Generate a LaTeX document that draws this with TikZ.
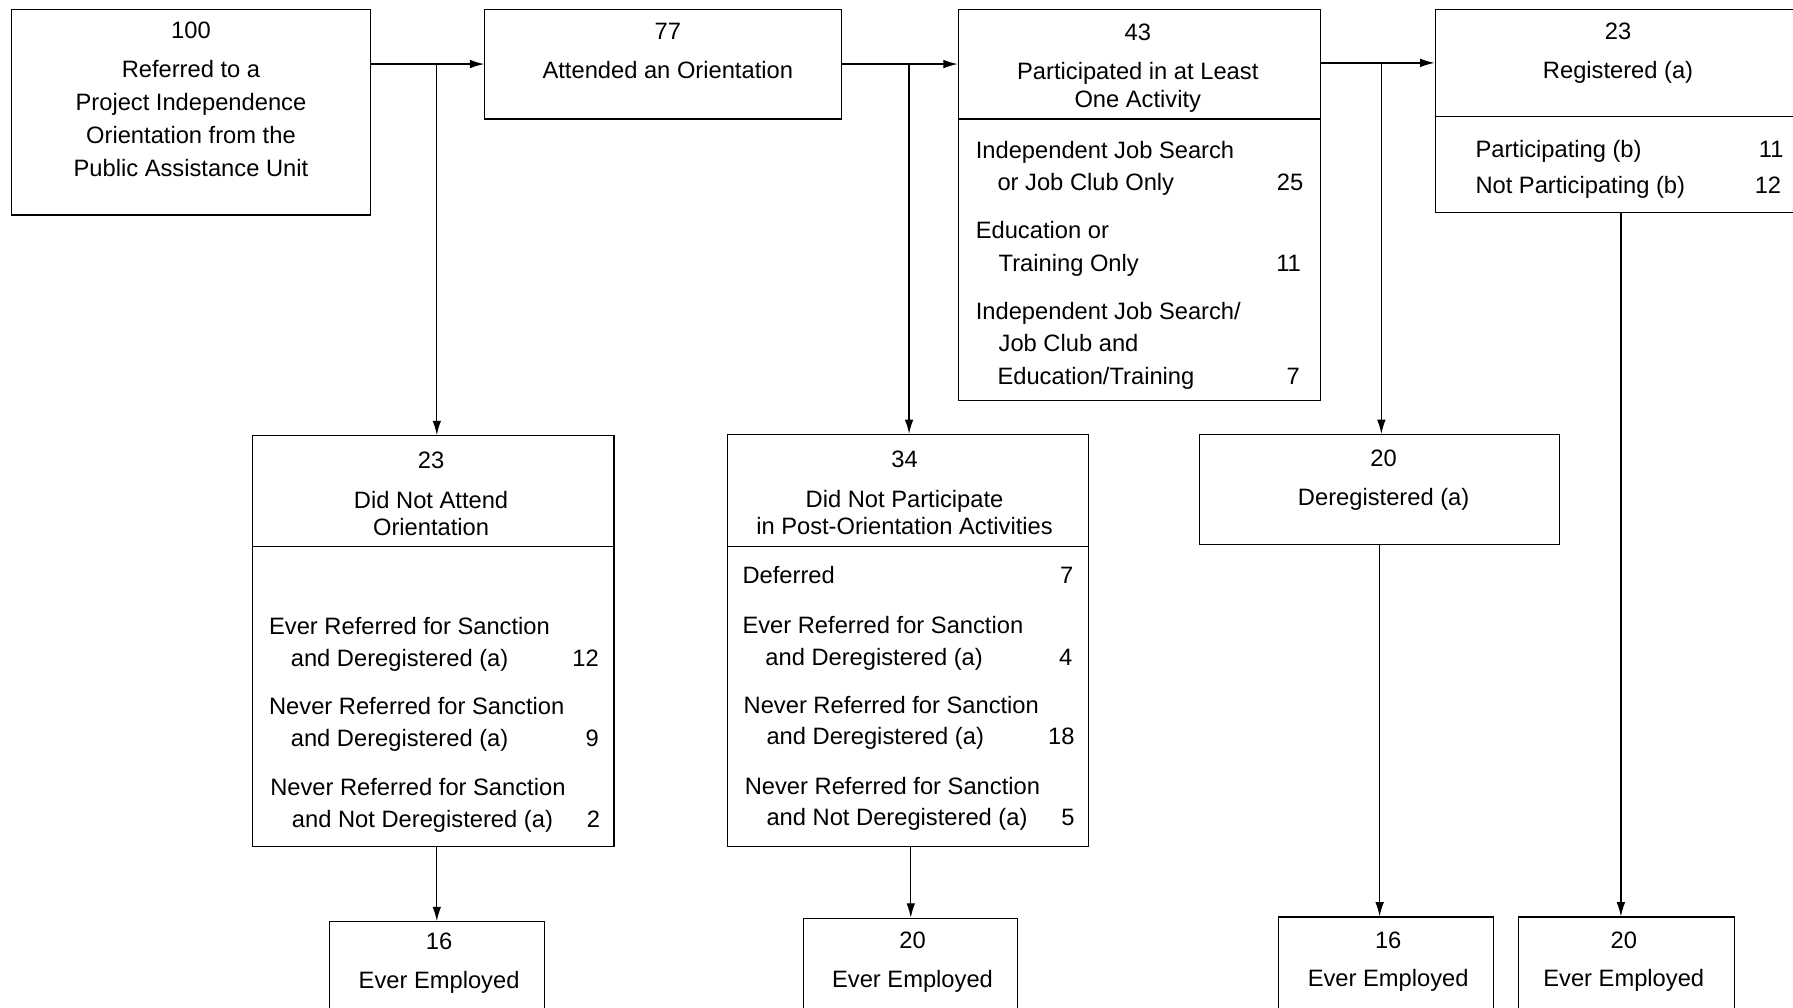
\documentclass[tikz,border=0pt]{standalone}
\usepackage{fontspec}
\setmainfont{Liberation Sans}
\usepackage{tikz}
\usetikzlibrary{calc, arrows.meta, fit}

\begin{document}
\begin{tikzpicture}[x=0.2mm, y=-0.2mm, font=\fontsize{11.8}{14}\selectfont]
		\tikzstyle{box}   = [draw=black, line width=0.6pt, inner sep=0pt]
		\tikzstyle{txt}   = [anchor=mid, inner sep=0pt, yshift=-0.6mm]
		\tikzstyle{lft}   = [anchor=mid west, inner sep=0pt, yshift=-0.6mm]
		\tikzstyle{rgt}   = [anchor=mid east, inner sep=0pt, yshift=-0.6mm]
		\tikzstyle{arrow} = [line width=0.6pt, -{Latex[length=2.5mm, width=1.5mm]}]

		\useasboundingbox (0,0) rectangle (1568,881);
		\clip (0,0) rectangle (1568,881);

		% top row
		\node[box, fit={(10,8) (324,188)}]     (ref) {};
		\node[txt] at (167,26)   (ref-n)  {100};
		\node[txt] at (167,60)   (ref-t1) {Referred to a};
		\node[txt] at (167,89)   (ref-t2) {Project Independence};
		\node[txt] at (167,118)  (ref-t3) {Orientation from the};
		\node[txt] at (167,147)  (ref-t4) {Public Assistance Unit};

		\node[box, fit={(424,8) (736,104)}]    (att) {};
		\node[txt] at (584,27)   (att-n)  {77};
		\node[txt] at (584,61)   (att-t1) {Attended an Orientation};

		\node[box, fit={(838,8) (1155,350)}]   (par) {};
		\draw[line width=0.6pt] (838,104) -- (1155,104);
		\node[txt] at (995,28)   (par-n)  {43};
		\node[txt] at (995,62)   (par-t1) {Participated in at Least};
		\node[txt] at (995,86)   (par-t2) {One Activity};
		\node[lft] at (853,131)  (par-l1) {Independent Job Search};
		\node[lft] at (872,159)  (par-l2) {or Job Club Only};
		\node[rgt] at (1140,159) (par-v1) {25};
		\node[lft] at (853,201)  (par-l3) {Education or};
		\node[lft] at (873,230)  (par-l4) {Training Only};
		\node[rgt] at (1138,230) (par-v2) {11};
		\node[lft] at (853,272)  (par-l5) {Independent Job Search/};
		\node[lft] at (873,300)  (par-l6) {Job Club and};
		\node[lft] at (872,329)  (par-l7) {Education/Training};
		\node[rgt] at (1137,329) (par-v3) {7};

		\node[box, fit={(1255,8) (1580,186)}]  (reg) {};
		\draw[line width=0.6pt] (1255,102) -- (1580,102);
		\node[txt] at (1415,27)  (reg-n)  {23};
		\node[txt] at (1415,61)  (reg-t1) {Registered (a)};
		\node[lft] at (1290,130) (reg-l1) {Participating (b)};
		\node[rgt] at (1560,130) (reg-v1) {11};
		\node[lft] at (1290,162) (reg-l2) {Not Participating (b)};
		\node[rgt] at (1558,162) (reg-v2) {12};

		% middle row
		\node[box, fit={(221,381) (537,740)}]  (nat) {};
		\draw[line width=0.6pt] (221,478) -- (537,478);
		\node[txt] at (377,402)  (nat-n)  {23};
		\node[txt] at (377,437)  (nat-t1) {Did Not Attend};
		\node[txt] at (377,461)  (nat-t2) {Orientation};
		\node[lft] at (235,547)  (nat-l1) {Ever Referred for Sanction};
		\node[lft] at (254,575)  (nat-l2) {and Deregistered (a)};
		\node[rgt] at (524,575)  (nat-v1) {12};
		\node[lft] at (235,617)  (nat-l3) {Never Referred for Sanction};
		\node[lft] at (254,645)  (nat-l4) {and Deregistered (a)};
		\node[rgt] at (524,645)  (nat-v2) {9};
		\node[lft] at (236,688)  (nat-l5) {Never Referred for Sanction};
		\node[lft] at (255,716)  (nat-l6) {and Not Deregistered (a)};
		\node[rgt] at (525,716)  (nat-v3) {2};

		\node[box, fit={(636,380) (952,740)}]  (npa) {};
		\draw[line width=0.6pt] (636,478) -- (952,478);
		\node[txt] at (791,401)  (npa-n)  {34};
		\node[txt] at (791,436)  (npa-t1) {Did Not Participate};
		\node[txt] at (791,460)  (npa-t2) {in Post-Orientation Activities};
		\node[lft] at (649,503)  (npa-l1) {Deferred};
		\node[rgt] at (939,503)  (npa-v1) {7};
		\node[lft] at (649,546)  (npa-l2) {Ever Referred for Sanction};
		\node[lft] at (669,574)  (npa-l3) {and Deregistered (a)};
		\node[rgt] at (938,574)  (npa-v2) {4};
		\node[lft] at (650,616)  (npa-l4) {Never Referred for Sanction};
		\node[lft] at (670,643)  (npa-l5) {and Deregistered (a)};
		\node[rgt] at (940,643)  (npa-v3) {18};
		\node[lft] at (651,687)  (npa-l6) {Never Referred for Sanction};
		\node[lft] at (670,714)  (npa-l7) {and Not Deregistered (a)};
		\node[rgt] at (940,714)  (npa-v4) {5};

		\node[box, fit={(1049,380) (1364,476)}] (der) {};
		\node[txt] at (1210,400) (der-n)  {20};
		\node[txt] at (1210,434) (der-t1) {Deregistered (a)};

		% bottom row
		\node[box, fit={(288,806) (476,900)}]   (e1) {};
		\node[txt] at (384,823)  (e1-n)   {16};
		\node[txt] at (384,857)  (e1-t)   {Ever Employed};
		\node[box, fit={(703,803) (890,900)}]   (e2) {};
		\node[txt] at (798,822)  (e2-n)   {20};
		\node[txt] at (798,856)  (e2-t)   {Ever Employed};
		\node[box, fit={(1118,802) (1306,900)}] (e3) {};
		\node[txt] at (1214,822) (e3-n)   {16};
		\node[txt] at (1214,855) (e3-t)   {Ever Employed};
		\node[box, fit={(1328,802) (1517,900)}] (e4) {};
		\node[txt] at (1420,822) (e4-n)   {20};
		\node[txt] at (1420,855) (e4-t)   {Ever Employed};

		% connectors
		\coordinate (b1) at (382,56);
		\coordinate (b2) at (795,56);
		\coordinate (b3) at (1208,55);
		\draw[arrow] (ref.east |- b1) -- (att.west |- b1);
		\draw[arrow] (b1) -- (b1 |- nat.north);
		\draw[arrow] (att.east |- b2) -- (par.west |- b2);
		\draw[arrow] (b2) -- (b2 |- npa.north);
		\draw[arrow] (par.east |- b3) -- (reg.west |- b3);
		\draw[arrow] (b3) -- (b3 |- der.north);
		\draw[arrow] (e1.north |- nat.south) -- (e1.north);
		\draw[arrow] (e2.north |- npa.south) -- (e2.north);
		\draw[arrow] (der.south) -- (der.south |- e3.north);
		\draw[arrow] (reg.south) -- (reg.south |- e4.north);
	\end{tikzpicture}
\end{document}
